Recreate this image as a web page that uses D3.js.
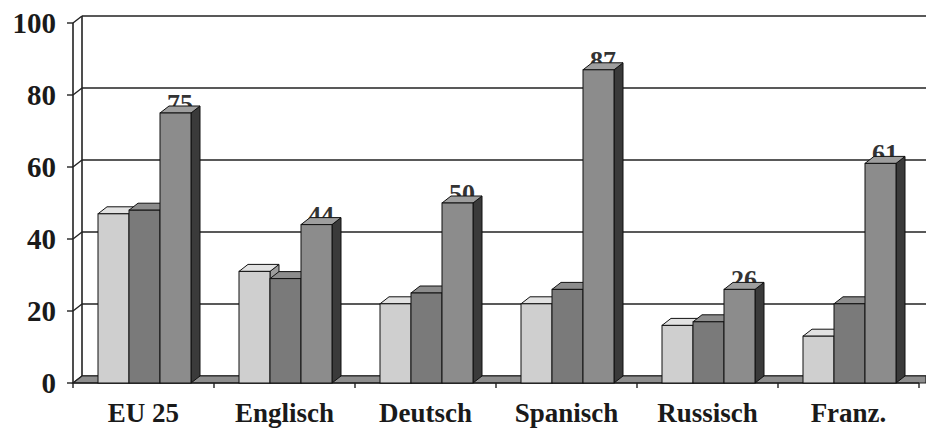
<!DOCTYPE html>
<html>
<head>
<meta charset="utf-8">
<script src="https://cdn.jsdelivr.net/npm/d3@7"></script>
<style>
  body { margin: 0; background: #fff; }
  text { font-family: "Liberation Serif", "DejaVu Serif", serif; font-weight: bold; }
</style>
</head>
<body>
<div id="chart"></div>
<script>
const categories = ['EU 25', 'Englisch', 'Deutsch', 'Spanisch', 'Russisch', 'Franz.'];
const series1 = [47, 31, 22, 22, 16, 13];
const series2 = [48, 29, 25, 26, 17, 22];
const series3 = [75, 44, 50, 87, 26, 61];
const yTicks = [0, 20, 40, 60, 80, 100];

const width = 926, height = 431;
const depth = { dx: 9, dy: -7 };
const plot = { left: 73, right: 919, top: 23, bottom: 383 };

const svg = d3.select('#chart').append('svg')
  .attr('width', width)
  .attr('height', height);

const x = d3.scaleBand()
  .domain(categories)
  .range([plot.left, plot.right])
  .paddingInner(0)
  .paddingOuter(0);

const y = d3.scaleLinear()
  .domain([0, 100])
  .range([plot.bottom, plot.top]);

const inner = d3.scaleBand()
  .domain([0, 1, 2])
  .range([25, 25 + 93]);

// back wall gridlines
svg.append('g').selectAll('line')
  .data(yTicks)
  .enter().append('line')
  .attr('x1', plot.left + depth.dx)
  .attr('x2', width)
  .attr('y1', d => y(d) + depth.dy)
  .attr('y2', d => y(d) + depth.dy)
  .attr('stroke', '#222')
  .attr('stroke-width', 1.6);

// left wall
svg.append('line')
  .attr('x1', plot.left + depth.dx).attr('x2', plot.left + depth.dx)
  .attr('y1', y(100) + depth.dy).attr('y2', y(0) + depth.dy)
  .attr('stroke', '#222').attr('stroke-width', 1.6);

svg.append('g').selectAll('line')
  .data(yTicks)
  .enter().append('line')
  .attr('x1', plot.left)
  .attr('x2', plot.left + depth.dx)
  .attr('y1', d => y(d))
  .attr('y2', d => y(d) + depth.dy)
  .attr('stroke', '#222')
  .attr('stroke-width', 1.4);

// floor
svg.append('path')
  .attr('d', `M${plot.left},${y(0)} L${plot.left + depth.dx},${y(0) + depth.dy} L${width},${y(0) + depth.dy} L${width},${y(0)} Z`)
  .attr('fill', '#8e8e8e')
  .attr('stroke', '#222')
  .attr('stroke-width', 1.2);

// front axis
svg.append('line')
  .attr('x1', plot.left).attr('x2', plot.left)
  .attr('y1', y(100)).attr('y2', y(0))
  .attr('stroke', '#222').attr('stroke-width', 1.6);
svg.append('line')
  .attr('x1', plot.left).attr('x2', plot.right)
  .attr('y1', y(0)).attr('y2', y(0))
  .attr('stroke', '#222').attr('stroke-width', 1.6);

svg.append('g').selectAll('line')
  .data(yTicks)
  .enter().append('line')
  .attr('x1', plot.left - 6).attr('x2', plot.left)
  .attr('y1', d => y(d)).attr('y2', d => y(d))
  .attr('stroke', '#222').attr('stroke-width', 1.4);

svg.append('g').selectAll('line')
  .data(categories.concat(['end']))
  .enter().append('line')
  .attr('x1', (d, i) => plot.left + i * x.bandwidth())
  .attr('x2', (d, i) => plot.left + i * x.bandwidth())
  .attr('y1', y(0)).attr('y2', y(0) + 5)
  .attr('stroke', '#222').attr('stroke-width', 1.4);

svg.append('g').selectAll('text')
  .data(yTicks)
  .enter().append('text')
  .attr('x', plot.left - 17)
  .attr('y', d => y(d) + 10)
  .attr('text-anchor', 'end')
  .attr('font-size', 29)
  .attr('fill', '#1a1a1a')
  .text(d => d);

svg.append('g').selectAll('text')
  .data(categories)
  .enter().append('text')
  .attr('x', d => x(d) + x.bandwidth() / 2)
  .attr('y', 422)
  .attr('text-anchor', 'middle')
  .attr('font-size', 27)
  .attr('fill', '#1a1a1a')
  .text(d => d);

// bars
const palette = [
  { front: '#cfcfcf', top: '#e2e2e2', side: '#9c9c9c' },
  { front: '#7a7a7a', top: '#8c8c8c', side: '#4a4a4a' },
  { front: '#8c8c8c', top: '#9e9e9e', side: '#3a3a3a' }
];

const barData = [];
categories.forEach((c, i) => {
  [series1, series2, series3].forEach((s, k) => {
    barData.push({ cat: c, k: k, value: s[i] });
  });
});

function drawBar(g, d) {
  const x0 = x(d.cat) + inner(d.k);
  const x1 = x0 + inner.bandwidth();
  const y0 = y(0), y1 = y(d.value);
  const c = palette[d.k];
  g.append('path')
    .attr('d', `M${x1},${y1} L${x1 + depth.dx},${y1 + depth.dy} L${x1 + depth.dx},${y0 + depth.dy} L${x1},${y0} Z`)
    .attr('fill', c.side).attr('stroke', '#111').attr('stroke-width', 1);
  g.append('path')
    .attr('d', `M${x0},${y1} L${x0 + depth.dx},${y1 + depth.dy} L${x1 + depth.dx},${y1 + depth.dy} L${x1},${y1} Z`)
    .attr('fill', c.top).attr('stroke', '#111').attr('stroke-width', 1);
  g.append('rect')
    .attr('x', x0).attr('y', y1)
    .attr('width', x1 - x0).attr('height', y0 - y1)
    .attr('fill', c.front).attr('stroke', '#111').attr('stroke-width', 1);
}

const bars = svg.append('g');
categories.forEach((c, i) => {
  // value label sits behind the tallest bar
  bars.append('text')
    .attr('x', x(c) + inner(2) + inner.bandwidth() / 2 + depth.dx / 2)
    .attr('y', y(series3[i]) - 1)
    .attr('text-anchor', 'middle')
    .attr('font-size', 26)
    .attr('fill', '#333')
    .text(series3[i]);
  barData.filter(d => d.cat === c).forEach(d => drawBar(bars, d));
});
</script>
</body>
</html>
